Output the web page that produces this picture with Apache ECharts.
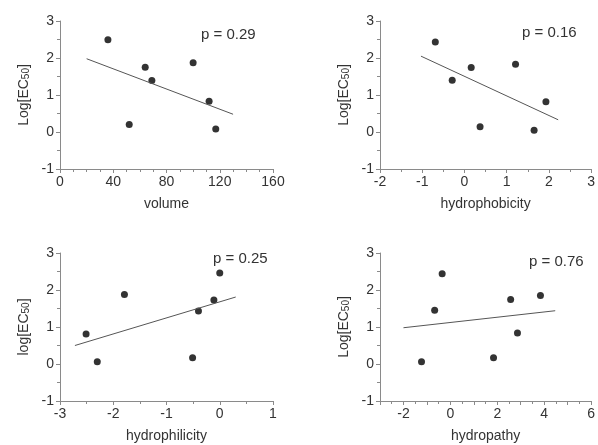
<!DOCTYPE html>
<html>
<head>
<meta charset="utf-8">
<script src="https://cdn.jsdelivr.net/npm/echarts@6/dist/echarts.min.js"></script>
<style>
  html, body { margin: 0; padding: 0; background: #fff; }
  #chart { width: 598px; height: 445px; }
</style>
</head>
<body>
<div id="chart"></div>
<script>
  // volume panel
  var volumeX = [36, 52, 64, 69, 100, 112, 117]
  var volumeY = [2.49, 0.2, 1.75, 1.39, 1.87, 0.83, 0.08]
  var volumeFitX = [20, 130]
  var volumeFitY = [1.98, 0.48]

  // hydrophobicity panel
  var phobX = [-0.69, -0.29, 0.16, 0.37, 1.21, 1.65, 1.93]
  var phobY = [2.43, 1.4, 1.74, 0.14, 1.83, 0.05, 0.82]
  var phobFitX = [-1.03, 2.22]
  var phobFitY = [2.05, 0.33]

  // hydrophilicity panel
  var philX = [-2.51, -2.3, -1.79, -0.51, -0.4, -0.11, 0.0]
  var philY = [0.81, 0.06, 1.88, 0.17, 1.43, 1.73, 2.46]
  var philFitX = [-2.72, 0.3]
  var philFitY = [0.5, 1.81]

  // hydropathy panel
  var pathX = [-1.23, -0.67, -0.35, 1.84, 2.57, 2.86, 3.84]
  var pathY = [0.06, 1.45, 2.44, 0.17, 1.74, 0.84, 1.85]
  var pathFitX = [-2.0, 4.47]
  var pathFitY = [0.98, 1.44]

  var pValues = ['p = 0.29', 'p = 0.16', 'p = 0.25', 'p = 0.76']
  var xNames = ['volume', 'hydrophobicity', 'hydrophilicity', 'hydropathy']
  var yNames = ['Log', 'Log', 'log', 'Log']

  var font = 'Liberation Sans, Arial, sans-serif'
  var axisColor = '#8a8a8a'
  var textColor = '#333'

  function pairs (xs, ys) {
    return xs.map(function (x, i) { return [x, ys[i]] })
  }

  function xAxis (idx, min, max, interval, name, minorSplit, fmt) {
    return {
      type: 'value', gridIndex: idx, min: min, max: max, interval: interval,
      name: name, nameLocation: 'middle', nameGap: 28,
      nameTextStyle: { fontFamily: font, fontSize: 14, color: textColor },
      axisLine: { show: true, onZero: false, lineStyle: { color: axisColor } },
      axisTick: { show: true, length: 4, lineStyle: { color: axisColor } },
      minorTick: { show: true, splitNumber: minorSplit, length: 3, lineStyle: { color: axisColor } },
      splitLine: { show: false },
      axisLabel: { fontFamily: font, fontSize: 14, color: textColor, margin: 6, formatter: fmt }
    }
  }

  function yAxis (idx, pre) {
    return {
      type: 'value', gridIndex: idx, min: -1, max: 3, interval: 1,
      name: '{a|' + pre + '[EC}{b|50}{a|]}', nameLocation: 'middle', nameGap: 29,
      nameTextStyle: {
        rich: {
          a: { fontFamily: font, fontSize: 14, color: textColor },
          b: { fontFamily: font, fontSize: 10, color: textColor, verticalAlign: 'bottom' }
        }
      },
      axisLine: { show: true, onZero: false, lineStyle: { color: axisColor } },
      axisTick: { show: true, length: 4, lineStyle: { color: axisColor } },
      minorTick: { show: true, splitNumber: 2, length: 3, lineStyle: { color: axisColor } },
      splitLine: { show: false },
      axisLabel: { fontFamily: font, fontSize: 14, color: textColor, margin: 6 }
    }
  }

  function scatter (idx, xs, ys) {
    return {
      type: 'scatter', xAxisIndex: idx, yAxisIndex: idx,
      symbolSize: 7, itemStyle: { color: '#000' },
      data: pairs(xs, ys)
    }
  }

  function fit (idx, xs, ys) {
    return {
      type: 'line', xAxisIndex: idx, yAxisIndex: idx,
      symbol: 'none', lineStyle: { color: '#555', width: 1 },
      data: pairs(xs, ys)
    }
  }

  var chart = echarts.init(document.getElementById('chart'))
  chart.setOption({
    animation: false,
    grid: [
      { left: 60, top: 21, width: 213, height: 148 },
      { left: 380, top: 21, width: 213, height: 148 },
      { left: 60, top: 253, width: 213, height: 148 },
      { left: 380, top: 253, width: 213, height: 148 }
    ],
    xAxis: [
      xAxis(0, 0, 160, 40, xNames[0], 4),
      xAxis(1, -2, 3, 1, xNames[1], 2),
      xAxis(2, -3, 1, 1, xNames[2], 2),
      xAxis(3, -3, 6, 1, xNames[3], 2, function (v) { return v % 2 === 0 ? v : '' })
    ],
    yAxis: [yAxis(0, yNames[0]), yAxis(1, yNames[1]), yAxis(2, yNames[2]), yAxis(3, yNames[3])],
    graphic: [
      { type: 'text', left: 201, top: 27, style: { text: pValues[0], font: '15px ' + font, fill: textColor } },
      { type: 'text', left: 522, top: 25, style: { text: pValues[1], font: '15px ' + font, fill: textColor } },
      { type: 'text', left: 213, top: 251, style: { text: pValues[2], font: '15px ' + font, fill: textColor } },
      { type: 'text', left: 529, top: 254, style: { text: pValues[3], font: '15px ' + font, fill: textColor } }
    ],
    series: [
      scatter(0, volumeX, volumeY), fit(0, volumeFitX, volumeFitY),
      scatter(1, phobX, phobY), fit(1, phobFitX, phobFitY),
      scatter(2, philX, philY), fit(2, philFitX, philFitY),
      scatter(3, pathX, pathY), fit(3, pathFitX, pathFitY)
    ]
  })
</script>
</body>
</html>
